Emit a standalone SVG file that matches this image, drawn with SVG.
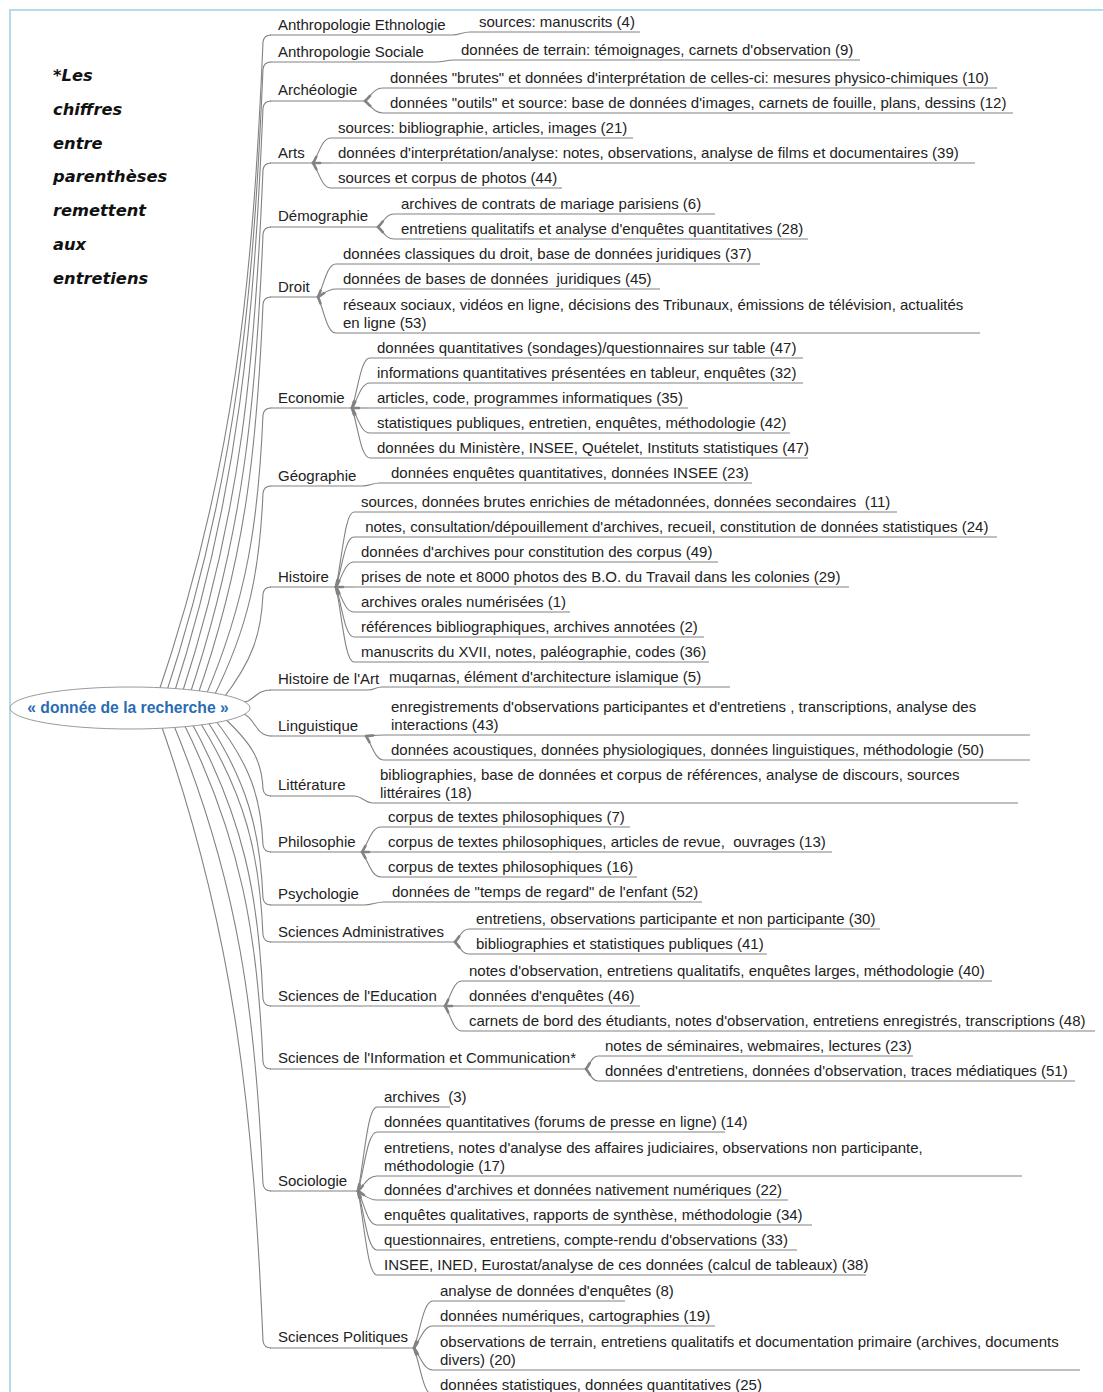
<svg xmlns="http://www.w3.org/2000/svg" width="1103" height="1392" viewBox="0 0 1103 1392">
<style>
text{font-family:"Liberation Sans",Arial,sans-serif;font-size:15px;fill:#222;white-space:pre}
.c{fill:none;stroke:#828282;stroke-width:1.1}
.tp{fill:none;stroke:#828282;stroke-width:2.6;stroke-dasharray:7 3000;stroke-linecap:round}
.ul{stroke:#828282;stroke-width:1.1}
.note{font-family:"DejaVu Sans",Verdana,sans-serif;font-weight:bold;font-style:italic;font-size:16.3px;fill:#111}
.root{font-weight:bold;font-size:15.7px;fill:#2a6cb3}
</style>
<rect x="10" y="10" width="1200" height="1500" fill="#fff" stroke="#b3dde9" stroke-width="2"/>
<g id="note">
<text class="note" x="53" y="81">*Les</text>
<text class="note" x="53" y="114.7">chiffres</text>
<text class="note" x="53" y="148.5">entre</text>
<text class="note" x="53" y="182.2">parenthèses</text>
<text class="note" x="53" y="216">remettent</text>
<text class="note" x="53" y="249.7">aux</text>
<text class="note" x="53" y="283.5">entretiens</text>
</g>
<g id="connectors">
<path class="c" d="M156 700 C236 467 253 275 263 42 Q264 35 271 35"/>
<path class="c" d="M164 700 C238 477 253.4 292 263 69 Q264 62 271 62"/>
<path class="c" d="M172 700 C240 490 254 318 263 108 Q264 101 271 101"/>
<path class="c" d="M180 700 C242 512 255 358 263 170 Q264 163 271 163"/>
<path class="c" d="M188 700 C244 534 256 400 263 234 Q264 227 271 227"/>
<path class="c" d="M196 700 C246 559 257 445 263 304 Q264 297 271 297"/>
<path class="c" d="M204 700 C248 598 258.6 517 263 415 Q264 408 271 408"/>
<path class="c" d="M212 700 C250 625 259.8 568 263 493 Q264 486 271 486"/>
<path class="c" d="M222 700 C252.75 660.5 261.3 633.5 263 594 Q264 587 271 587"/>
<path class="c" d="M238 703 C255 703 254 690 271 690"/>
<path class="c" d="M238 713 C255 713 254 736 271 736"/>
<path class="c" d="M222 716 C252.75 744 261.8 761 263 789 Q264 796 271 796"/>
<path class="c" d="M212 716 C250.25 763.6 261 797.4 263 845 Q264 852 271 852"/>
<path class="c" d="M204 716 C248.25 782 260.2 832 263 898 Q264 905 271 905"/>
<path class="c" d="M196 716 C246.25 795 259.6 856 263 935 Q264 942 271 942"/>
<path class="c" d="M188 716 C244.25 817.5 258.65 897.5 263 999 Q264 1006 271 1006"/>
<path class="c" d="M180 716 C242.25 839.5 257.7 938.5 263 1062 Q264 1069 271 1069"/>
<path class="c" d="M170 716 C239.75 882 255.9 1018 263 1184 Q264 1191 271 1191"/>
<path class="c" d="M158 716 C236.75 937 253.5 1120 263 1341 Q264 1348 271 1348"/>
<path class="c" d="M452 35 C460 35 462 32 470 32"/>
<path class="c" d="M436 62 C444 62 446 60 454 60"/>
<path class="c" d="M362 486 C370 486 372 483 380 483"/>
<path class="c" d="M368 690 C375 690 375 687 382 687"/>
<path class="c" d="M354 796 C362 796 365 803 373 803"/>
<path class="c" d="M364 905 C372 905 376 902 384 902"/>
<g id="fork-archeologie">
<path class="c" d="M365 101 C371.3 95.8 374 88 383 88"/><path class="tp" d="M365 101 C371.3 95.8 374 88 383 88"/>
<path class="c" d="M365 101 C371.3 105.8 374 113 383 113"/><path class="tp" d="M365 101 C371.3 105.8 374 113 383 113"/>
</g>
<g id="fork-arts">
<path class="c" d="M313 163 C319.3 153 322 138 331 138"/><path class="tp" d="M313 163 C319.3 153 322 138 331 138"/>
<path class="c" d="M313 163 L331 163"/><path class="tp" d="M313 163 L331 163"/>
<path class="c" d="M313 163 C319.3 173 322 188 331 188"/><path class="tp" d="M313 163 C319.3 173 322 188 331 188"/>
</g>
<g id="fork-demographie">
<path class="c" d="M378 227 C383.6 221.8 386 214 394 214"/><path class="tp" d="M378 227 C383.6 221.8 386 214 394 214"/>
<path class="c" d="M378 227 C383.6 231.8 386 239 394 239"/><path class="tp" d="M378 227 C383.6 231.8 386 239 394 239"/>
</g>
<g id="fork-droit">
<path class="c" d="M318 297 C324.3 283.8 327 264 336 264"/><path class="tp" d="M318 297 C324.3 283.8 327 264 336 264"/>
<path class="c" d="M318 297 C324.3 293.8 327 289 336 289"/><path class="tp" d="M318 297 C324.3 293.8 327 289 336 289"/>
<path class="c" d="M318 297 C324.3 311.4 327 333 336 333"/><path class="tp" d="M318 297 C324.3 311.4 327 333 336 333"/>
</g>
<g id="fork-economie">
<path class="c" d="M352 408 C358.3 388 361 358 370 358"/><path class="tp" d="M352 408 C358.3 388 361 358 370 358"/>
<path class="c" d="M352 408 C358.3 398 361 383 370 383"/><path class="tp" d="M352 408 C358.3 398 361 383 370 383"/>
<path class="c" d="M352 408 L370 408"/><path class="tp" d="M352 408 L370 408"/>
<path class="c" d="M352 408 C358.3 418 361 433 370 433"/><path class="tp" d="M352 408 C358.3 418 361 433 370 433"/>
<path class="c" d="M352 408 C358.3 428 361 458 370 458"/><path class="tp" d="M352 408 C358.3 428 361 458 370 458"/>
</g>
<g id="fork-histoire">
<path class="c" d="M336 587 C342.3 557 345 512 354 512"/><path class="tp" d="M336 587 C342.3 557 345 512 354 512"/>
<path class="c" d="M336 587 C342.3 567 345 537 354 537"/><path class="tp" d="M336 587 C342.3 567 345 537 354 537"/>
<path class="c" d="M336 587 C342.3 577 345 562 354 562"/><path class="tp" d="M336 587 C342.3 577 345 562 354 562"/>
<path class="c" d="M336 587 L354 587"/><path class="tp" d="M336 587 L354 587"/>
<path class="c" d="M336 587 C342.3 597 345 612 354 612"/><path class="tp" d="M336 587 C342.3 597 345 612 354 612"/>
<path class="c" d="M336 587 C342.3 607 345 637 354 637"/><path class="tp" d="M336 587 C342.3 607 345 637 354 637"/>
<path class="c" d="M336 587 C342.3 617 345 662 354 662"/><path class="tp" d="M336 587 C342.3 617 345 662 354 662"/>
</g>
<g id="fork-linguistique">
<path class="c" d="M366 736 C372.3 735.6 375 735 384 735"/><path class="tp" d="M366 736 C372.3 735.6 375 735 384 735"/>
<path class="c" d="M366 736 C372.3 745.6 375 760 384 760"/><path class="tp" d="M366 736 C372.3 745.6 375 760 384 760"/>
</g>
<g id="fork-philosophie">
<path class="c" d="M362 852 C368.6 842 371.5 827 381 827"/><path class="tp" d="M362 852 C368.6 842 371.5 827 381 827"/>
<path class="c" d="M362 852 L381 852"/><path class="tp" d="M362 852 L381 852"/>
<path class="c" d="M362 852 C368.6 862 371.5 877 381 877"/><path class="tp" d="M362 852 C368.6 862 371.5 877 381 877"/>
</g>
<g id="fork-sciences-administratives">
<path class="c" d="M455 942 C459.9 936.8 462 929 469 929"/><path class="tp" d="M455 942 C459.9 936.8 462 929 469 929"/>
<path class="c" d="M455 942 C459.9 946.8 462 954 469 954"/><path class="tp" d="M455 942 C459.9 946.8 462 954 469 954"/>
</g>
<g id="fork-sciences-education">
<path class="c" d="M445 1006 C451 996 453.5 981 462 981"/><path class="tp" d="M445 1006 C451 996 453.5 981 462 981"/>
<path class="c" d="M445 1006 L462 1006"/><path class="tp" d="M445 1006 L462 1006"/>
<path class="c" d="M445 1006 C451 1016 453.5 1031 462 1031"/><path class="tp" d="M445 1006 C451 1016 453.5 1031 462 1031"/>
</g>
<g id="fork-sic">
<path class="c" d="M586 1069 C590.2 1063.8 592 1056 598 1056"/><path class="tp" d="M586 1069 C590.2 1063.8 592 1056 598 1056"/>
<path class="c" d="M586 1069 C590.2 1073.8 592 1081 598 1081"/><path class="tp" d="M586 1069 C590.2 1073.8 592 1081 598 1081"/>
</g>
<g id="fork-sociologie">
<path class="c" d="M358 1191 C364.6 1157.4 367.5 1107 377 1107"/><path class="tp" d="M358 1191 C364.6 1157.4 367.5 1107 377 1107"/>
<path class="c" d="M358 1191 C364.6 1167.4 367.5 1132 377 1132"/><path class="tp" d="M358 1191 C364.6 1167.4 367.5 1132 377 1132"/>
<path class="c" d="M358 1191 C364.6 1185 367.5 1176 377 1176"/><path class="tp" d="M358 1191 C364.6 1185 367.5 1176 377 1176"/>
<path class="c" d="M358 1191 C364.6 1194.6 367.5 1200 377 1200"/><path class="tp" d="M358 1191 C364.6 1194.6 367.5 1200 377 1200"/>
<path class="c" d="M358 1191 C364.6 1204.6 367.5 1225 377 1225"/><path class="tp" d="M358 1191 C364.6 1204.6 367.5 1225 377 1225"/>
<path class="c" d="M358 1191 C364.6 1214.6 367.5 1250 377 1250"/><path class="tp" d="M358 1191 C364.6 1214.6 367.5 1250 377 1250"/>
<path class="c" d="M358 1191 C364.6 1224.6 367.5 1275 377 1275"/><path class="tp" d="M358 1191 C364.6 1224.6 367.5 1275 377 1275"/>
</g>
<g id="fork-sciences-politiques">
<path class="c" d="M414 1348 C420.6 1329.2 423.5 1301 433 1301"/><path class="tp" d="M414 1348 C420.6 1329.2 423.5 1301 433 1301"/>
<path class="c" d="M414 1348 C420.6 1339.2 423.5 1326 433 1326"/><path class="tp" d="M414 1348 C420.6 1339.2 423.5 1326 433 1326"/>
<path class="c" d="M414 1348 C420.6 1356.8 423.5 1370 433 1370"/><path class="tp" d="M414 1348 C420.6 1356.8 423.5 1370 433 1370"/>
<path class="c" d="M414 1348 C420.6 1366.8 423.5 1395 433 1395"/><path class="tp" d="M414 1348 C420.6 1366.8 423.5 1395 433 1395"/>
</g>
</g>
<g id="root">
<ellipse cx="130" cy="708" rx="120" ry="21" fill="#fff" stroke="#9a9a9a" stroke-width="1"/>
<text class="root" x="128" y="713" text-anchor="middle">« donnée de la recherche »</text>
</g>
<g id="anthropologie-ethnologie">
<line class="ul" x1="270" y1="35" x2="452" y2="35"/><text x="278" y="30">Anthropologie Ethnologie</text>
<g id="ae-1"><line class="ul" x1="470" y1="32" x2="640" y2="32"/><text x="479" y="27">sources: manuscrits (4)</text></g>
</g>
<g id="anthropologie-sociale">
<line class="ul" x1="270" y1="62" x2="436" y2="62"/><text x="278" y="57">Anthropologie Sociale</text>
<g id="as-1"><line class="ul" x1="454" y1="60" x2="860" y2="60"/><text x="461" y="55">données de terrain: témoignages, carnets d'observation (9)</text></g>
</g>
<g id="archeologie">
<line class="ul" x1="270" y1="101" x2="365" y2="101"/><text x="278" y="95">Archéologie</text>
<g id="arch-1"><line class="ul" x1="383" y1="88" x2="997" y2="88"/><text x="390" y="83">données "brutes" et données d'interprétation de celles-ci: mesures physico-chimiques (10)</text></g>
<g id="arch-2"><line class="ul" x1="383" y1="113" x2="1013" y2="113"/><text x="390" y="108">données "outils" et source: base de données d'images, carnets de fouille, plans, dessins (12)</text></g>
</g>
<g id="arts">
<line class="ul" x1="270" y1="163" x2="313" y2="163"/><text x="278" y="158">Arts</text>
<g id="arts-1"><line class="ul" x1="331" y1="138" x2="633" y2="138"/><text x="338" y="133">sources: bibliographie, articles, images (21)</text></g>
<g id="arts-2"><line class="ul" x1="331" y1="163" x2="975" y2="163"/><text x="338" y="158">données d'interprétation/analyse: notes, observations, analyse de films et documentaires (39)</text></g>
<g id="arts-3"><line class="ul" x1="331" y1="188" x2="562" y2="188"/><text x="338" y="183">sources et corpus de photos (44)</text></g>
</g>
<g id="demographie">
<line class="ul" x1="270" y1="227" x2="378" y2="227"/><text x="278" y="221">Démographie</text>
<g id="demo-1"><line class="ul" x1="394" y1="214" x2="715" y2="214"/><text x="401" y="209">archives de contrats de mariage parisiens (6)</text></g>
<g id="demo-2"><line class="ul" x1="394" y1="239" x2="808" y2="239"/><text x="401" y="234">entretiens qualitatifs et analyse d'enquêtes quantitatives (28)</text></g>
</g>
<g id="droit">
<line class="ul" x1="270" y1="297" x2="318" y2="297"/><text x="278" y="292">Droit</text>
<g id="droit-1"><line class="ul" x1="336" y1="264" x2="760" y2="264"/><text x="343" y="259">données classiques du droit, base de données juridiques (37)</text></g>
<g id="droit-2"><line class="ul" x1="336" y1="289" x2="660" y2="289"/><text x="343" y="284">données de bases de données  juridiques (45)</text></g>
<g id="droit-3"><line class="ul" x1="336" y1="333" x2="980" y2="333"/><text x="343" y="310">réseaux sociaux, vidéos en ligne, décisions des Tribunaux, émissions de télévision, actualités<tspan x="343" y="328">en ligne (53)</tspan></text></g>
</g>
<g id="economie">
<line class="ul" x1="270" y1="408" x2="352" y2="408"/><text x="278" y="403">Economie</text>
<g id="eco-1"><line class="ul" x1="370" y1="358" x2="803" y2="358"/><text x="377" y="353">données quantitatives (sondages)/questionnaires sur table (47)</text></g>
<g id="eco-2"><line class="ul" x1="370" y1="383" x2="803" y2="383"/><text x="377" y="378">informations quantitatives présentées en tableur, enquêtes (32)</text></g>
<g id="eco-3"><line class="ul" x1="370" y1="408" x2="688" y2="408"/><text x="377" y="403">articles, code, programmes informatiques (35)</text></g>
<g id="eco-4"><line class="ul" x1="370" y1="433" x2="790" y2="433"/><text x="377" y="428">statistiques publiques, entretien, enquêtes, méthodologie (42)</text></g>
<g id="eco-5"><line class="ul" x1="370" y1="458" x2="808" y2="458"/><text x="377" y="453">données du Ministère, INSEE, Quételet, Instituts statistiques (47)</text></g>
</g>
<g id="geographie">
<line class="ul" x1="270" y1="486" x2="362" y2="486"/><text x="278" y="481">Géographie</text>
<g id="geo-1"><line class="ul" x1="380" y1="483" x2="752" y2="483"/><text x="391" y="478">données enquêtes quantitatives, données INSEE (23)</text></g>
</g>
<g id="histoire">
<line class="ul" x1="270" y1="587" x2="336" y2="587"/><text x="278" y="582">Histoire</text>
<g id="hist-1"><line class="ul" x1="354" y1="512" x2="897" y2="512"/><text x="361" y="507">sources, données brutes enrichies de métadonnées, données secondaires  (11)</text></g>
<g id="hist-2"><line class="ul" x1="354" y1="537" x2="997" y2="537"/><text x="361" y="532"> notes, consultation/dépouillement d'archives, recueil, constitution de données statistiques (24)</text></g>
<g id="hist-3"><line class="ul" x1="354" y1="562" x2="718" y2="562"/><text x="361" y="557">données d'archives pour constitution des corpus (49)</text></g>
<g id="hist-4"><line class="ul" x1="354" y1="587" x2="849" y2="587"/><text x="361" y="582">prises de note et 8000 photos des B.O. du Travail dans les colonies (29)</text></g>
<g id="hist-5"><line class="ul" x1="354" y1="612" x2="570" y2="612"/><text x="361" y="607">archives orales numérisées (1)</text></g>
<g id="hist-6"><line class="ul" x1="354" y1="637" x2="704" y2="637"/><text x="361" y="632">références bibliographiques, archives annotées (2)</text></g>
<g id="hist-7"><line class="ul" x1="354" y1="662" x2="709" y2="662"/><text x="361" y="657">manuscrits du XVII, notes, paléographie, codes (36)</text></g>
</g>
<g id="histoire-art">
<line class="ul" x1="270" y1="690" x2="368" y2="690"/><text x="278" y="684">Histoire de l'Art</text>
<g id="hda-1"><line class="ul" x1="382" y1="687" x2="730" y2="687"/><text x="389" y="682">muqarnas, élément d'architecture islamique (5)</text></g>
</g>
<g id="linguistique">
<line class="ul" x1="270" y1="736" x2="366" y2="736"/><text x="278" y="731">Linguistique</text>
<g id="ling-1"><line class="ul" x1="384" y1="735" x2="1030" y2="735"/><text x="391" y="712">enregistrements d'observations participantes et d'entretiens , transcriptions, analyse des<tspan x="391" y="730">interactions (43)</tspan></text></g>
<g id="ling-2"><line class="ul" x1="384" y1="760" x2="1030" y2="760"/><text x="391" y="755">données acoustiques, données physiologiques, données linguistiques, méthodologie (50)</text></g>
</g>
<g id="litterature">
<line class="ul" x1="270" y1="796" x2="354" y2="796"/><text x="278" y="790">Littérature</text>
<g id="litt-1"><line class="ul" x1="373" y1="803" x2="1018" y2="803"/><text x="380" y="780">bibliographies, base de données et corpus de références, analyse de discours, sources<tspan x="380" y="798">littéraires (18)</tspan></text></g>
</g>
<g id="philosophie">
<line class="ul" x1="270" y1="852" x2="362" y2="852"/><text x="278" y="847">Philosophie</text>
<g id="philo-1"><line class="ul" x1="381" y1="827" x2="630" y2="827"/><text x="388" y="822">corpus de textes philosophiques (7)</text></g>
<g id="philo-2"><line class="ul" x1="381" y1="852" x2="832" y2="852"/><text x="388" y="847">corpus de textes philosophiques, articles de revue,  ouvrages (13)</text></g>
<g id="philo-3"><line class="ul" x1="381" y1="877" x2="637" y2="877"/><text x="388" y="872">corpus de textes philosophiques (16)</text></g>
</g>
<g id="psychologie">
<line class="ul" x1="270" y1="905" x2="364" y2="905"/><text x="278" y="899">Psychologie</text>
<g id="psy-1"><line class="ul" x1="384" y1="902" x2="702" y2="902"/><text x="392" y="897">données de "temps de regard" de l'enfant (52)</text></g>
</g>
<g id="sciences-administratives">
<line class="ul" x1="270" y1="942" x2="455" y2="942"/><text x="278" y="937">Sciences Administratives</text>
<g id="sa-1"><line class="ul" x1="469" y1="929" x2="880" y2="929"/><text x="476" y="924">entretiens, observations participante et non participante (30)</text></g>
<g id="sa-2"><line class="ul" x1="469" y1="954" x2="767" y2="954"/><text x="476" y="949">bibliographies et statistiques publiques (41)</text></g>
</g>
<g id="sciences-education">
<line class="ul" x1="270" y1="1006" x2="445" y2="1006"/><text x="278" y="1001">Sciences de l'Education</text>
<g id="se-1"><line class="ul" x1="462" y1="981" x2="992" y2="981"/><text x="469" y="976">notes d'observation, entretiens qualitatifs, enquêtes larges, méthodologie (40)</text></g>
<g id="se-2"><line class="ul" x1="462" y1="1006" x2="640" y2="1006"/><text x="469" y="1001">données d'enquêtes (46)</text></g>
<g id="se-3"><line class="ul" x1="462" y1="1031" x2="1095" y2="1031"/><text x="469" y="1026">carnets de bord des étudiants, notes d'observation, entretiens enregistrés, transcriptions (48)</text></g>
</g>
<g id="sciences-information-communication">
<line class="ul" x1="270" y1="1069" x2="586" y2="1069"/><text x="278" y="1063">Sciences de l'Information et Communication*</text>
<g id="sic-1"><line class="ul" x1="598" y1="1056" x2="913" y2="1056"/><text x="605" y="1051">notes de séminaires, webmaires, lectures (23)</text></g>
<g id="sic-2"><line class="ul" x1="598" y1="1081" x2="1075" y2="1081"/><text x="605" y="1076">données d'entretiens, données d'observation, traces médiatiques (51)</text></g>
</g>
<g id="sociologie">
<line class="ul" x1="270" y1="1191" x2="358" y2="1191"/><text x="278" y="1186">Sociologie</text>
<g id="soc-1"><line class="ul" x1="377" y1="1107" x2="450" y2="1107"/><text x="384" y="1102">archives  (3)</text></g>
<g id="soc-2"><line class="ul" x1="377" y1="1132" x2="725" y2="1132"/><text x="384" y="1127">données quantitatives (forums de presse en ligne) (14)</text></g>
<g id="soc-3"><line class="ul" x1="377" y1="1176" x2="1022" y2="1176"/><text x="384" y="1153">entretiens, notes d'analyse des affaires judiciaires, observations non participante,<tspan x="384" y="1171">méthodologie (17)</tspan></text></g>
<g id="soc-4"><line class="ul" x1="377" y1="1200" x2="788" y2="1200"/><text x="384" y="1195">données d'archives et données nativement numériques (22)</text></g>
<g id="soc-5"><line class="ul" x1="377" y1="1225" x2="812" y2="1225"/><text x="384" y="1220">enquêtes qualitatives, rapports de synthèse, méthodologie (34)</text></g>
<g id="soc-6"><line class="ul" x1="377" y1="1250" x2="797" y2="1250"/><text x="384" y="1245">questionnaires, entretiens, compte-rendu d'observations (33)</text></g>
<g id="soc-7"><line class="ul" x1="377" y1="1275" x2="866" y2="1275"/><text x="384" y="1270">INSEE, INED, Eurostat/analyse de ces données (calcul de tableaux) (38)</text></g>
</g>
<g id="sciences-politiques">
<line class="ul" x1="270" y1="1348" x2="414" y2="1348"/><text x="278" y="1342">Sciences Politiques</text>
<g id="sp-1"><line class="ul" x1="433" y1="1301" x2="625" y2="1301"/><text x="440" y="1296">analyse de données d'enquêtes (8)</text></g>
<g id="sp-2"><line class="ul" x1="433" y1="1326" x2="715" y2="1326"/><text x="440" y="1321">données numériques, cartographies (19)</text></g>
<g id="sp-3"><line class="ul" x1="433" y1="1370" x2="1080" y2="1370"/><text x="440" y="1347">observations de terrain, entretiens qualitatifs et documentation primaire (archives, documents<tspan x="440" y="1365">divers) (20)</tspan></text></g>
<g id="sp-4"><line class="ul" x1="433" y1="1395" x2="800" y2="1395"/><text x="440" y="1390">données statistiques, données quantitatives (25)</text></g>
</g>
</svg>
